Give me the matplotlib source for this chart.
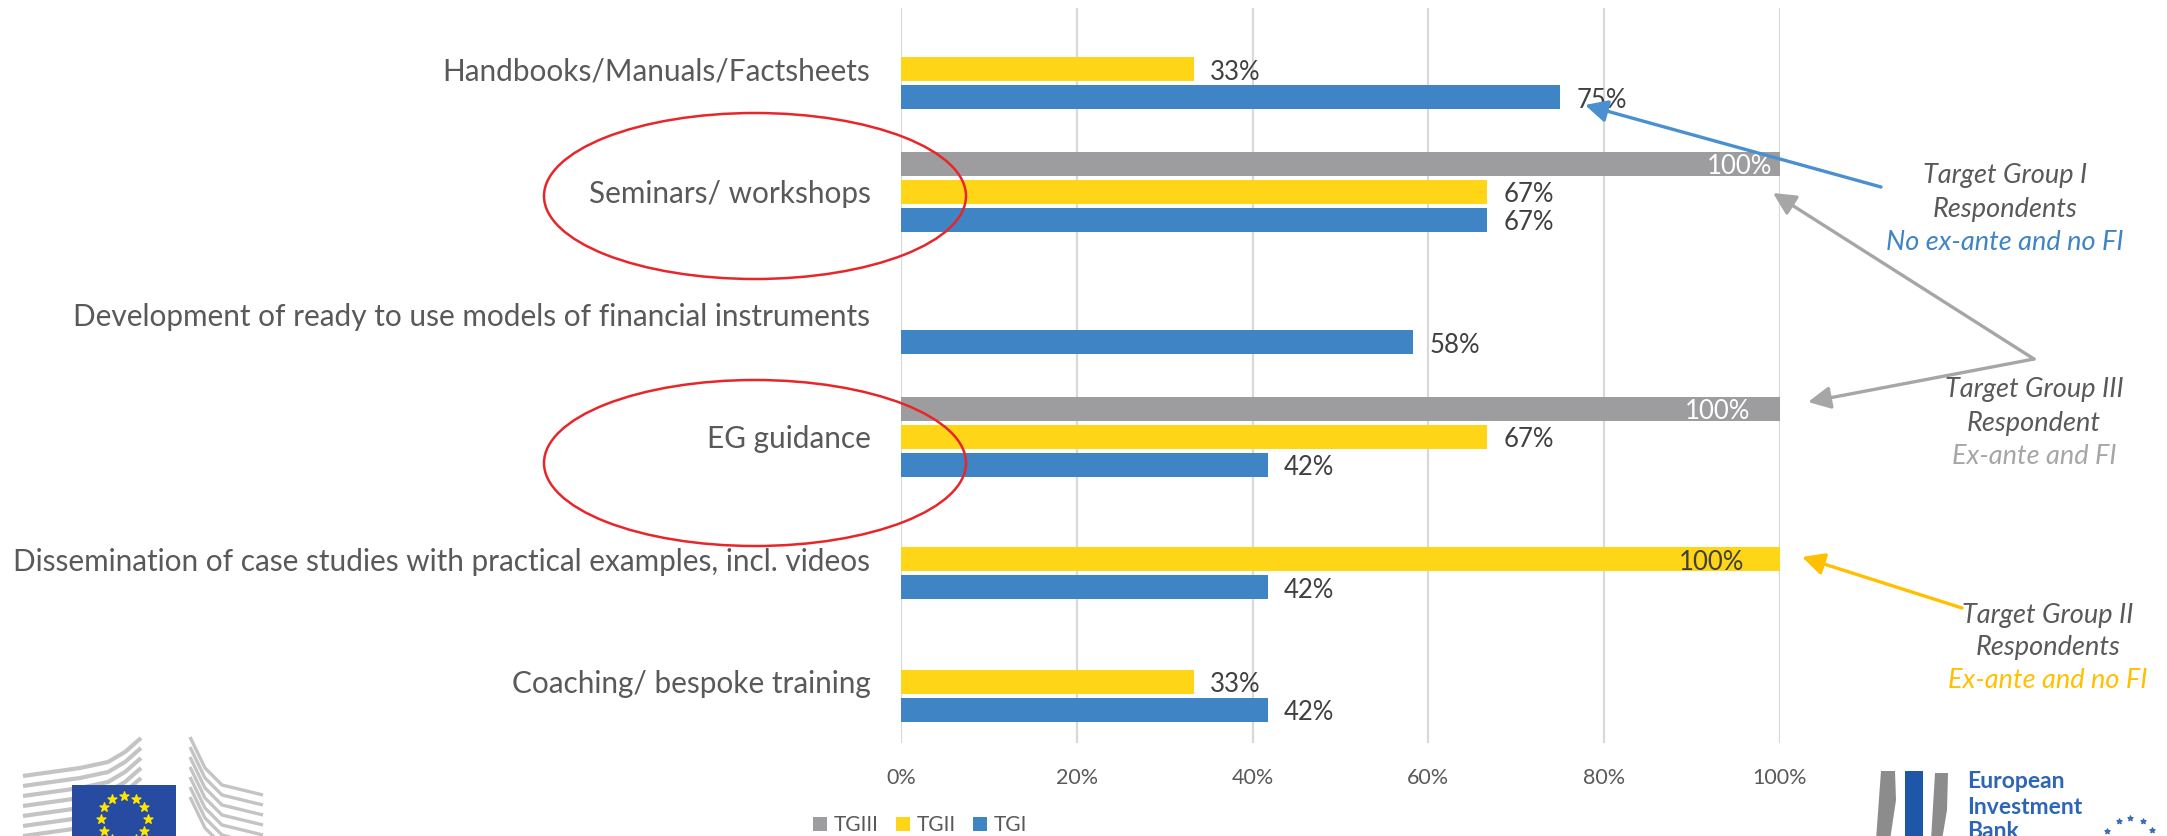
import numpy as np
import matplotlib
matplotlib.use("Agg")
import matplotlib.pyplot as plt
from matplotlib.patches import Ellipse, Rectangle, Polygon

plt.rcParams["font.family"] = ["Lato", "DejaVu Sans"]

W, H = 2167, 836

categories = [
    "Handbooks/Manuals/Factsheets",
    "Seminars/ workshops",
    "Development of ready to use models of financial instruments",
    "EG guidance",
    "Dissemination of case studies with practical examples, incl. videos",
    "Coaching/ bespoke training",
]
tg1 = [75, 66.7, 58.3, 41.7, 41.7, 41.7]
tg2 = [33.3, 66.7, None, 66.7, 100, 33.3]
tg3 = [None, 100, None, 100, None, None]
ticks = [0, 20, 40, 60, 80, 100]

BLUE = "#3f84c4"
YELLOW = "#ffd617"
GREY = "#9d9d9f"
TXT = "#595959"
DARK = "#404040"

fig = plt.figure(figsize=(W / 100, H / 100), dpi=100, facecolor="white")
ax = fig.add_axes([901 / W, 1 - 743 / H, 879 / W, 735 / H])

y = np.arange(len(categories))
step = 0.23
bar_h = 0.195


def draw(vals, offset, color):
    pos = [p + offset for p, v in zip(y, vals) if v is not None]
    w = [v for v in vals if v is not None]
    return ax.barh(pos, w, height=bar_h, color=color, zorder=3)


b3 = draw(tg3, -step, GREY)
b2 = draw(tg2, 0, YELLOW)
b1 = draw(tg1, step, BLUE)

ax.set_xlim(0, 100)
ax.set_ylim(len(categories) - 0.5, -0.5)
ax.set_xticks(ticks)
ax.set_xticklabels([f"{t}%" for t in ticks], fontsize=15.5, color=TXT)
ax.set_yticks(y)
ax.set_yticklabels(categories, fontsize=21.4, color=TXT)
ax.tick_params(axis="y", length=0, pad=22)
ax.tick_params(axis="x", length=0, pad=18)
ax.grid(axis="x", color="#d9d9d9", lw=1.6, zorder=0)
for s in ax.spines.values():
    s.set_visible(False)

# value labels
VAL_SIZE = 18.5
for i, v in enumerate(tg1):
    ax.annotate(f"{v:.0f}%", (v, i + step), xytext=(16, -3), textcoords="offset pixels",
                va="center", ha="left", fontsize=VAL_SIZE, color=DARK, zorder=4)
for i, v in enumerate(tg2):
    if v is None:
        continue
    if v == 100:
        ax.annotate(f"{v:.0f}%", (v, i), xytext=(-36, -3), textcoords="offset pixels",
                    va="center", ha="right", fontsize=VAL_SIZE, color=DARK, zorder=4)
    else:
        ax.annotate(f"{v:.0f}%", (v, i), xytext=(16, -3), textcoords="offset pixels",
                    va="center", ha="left", fontsize=VAL_SIZE, color=DARK, zorder=4)
inset = {1: -8, 3: -30}
for i, v in enumerate(tg3):
    if v is None:
        continue
    ax.annotate(f"{v:.0f}%", (v, i - step), xytext=(inset[i], -3), textcoords="offset pixels",
                va="center", ha="right", fontsize=VAL_SIZE, color="white", zorder=4)

fig.legend([b3, b2, b1], ["TGIII", "TGII", "TGI"], loc="center", ncol=3, frameon=False,
           bbox_to_anchor=(920 / W, 1 - 825 / H), fontsize=15, labelcolor=TXT,
           handlelength=0.67, handleheight=0.67, handletextpad=0.3, columnspacing=0.85,
           borderpad=0)

# everything below is drawn in figure pixels
ov = fig.add_axes([0, 0, 1, 1], zorder=10)
ov.set_xlim(0, W)
ov.set_ylim(H, 0)
ov.axis("off")
ov.patch.set_alpha(0)

for cy in (196, 463):
    ov.add_patch(Ellipse((755, cy), 422, 166, fc="none", ec="#e8262a", lw=1.8))


def arrow(start, end, color):
    ov.annotate("", xy=end, xytext=start,
                arrowprops=dict(arrowstyle="-|>,head_length=0.9,head_width=0.45", color=color,
                                lw=2.4, shrinkA=0, shrinkB=0, mutation_scale=15))


arrow((1881, 187), (1585, 105), "#4a90d0")
arrow((2034, 359), (1773, 193), "#a6a6a6")
arrow((2034, 359), (1808, 402), "#a6a6a6")
arrow((1962, 608), (1802, 557), "#ffc000")

notes = [
    (2005, 176, "Target Group I", "Respondents", "No ex-ante and no FI", BLUE),
    (2034, 390, "Target Group III", "Respondent", "Ex-ante and FI", "#a6a6a6"),
    (2048, 615, "Target Group II", "Respondents", "Ex-ante and no FI", "#ffc000"),
]
for cx, top, a, b, c, col in notes:
    ov.text(cx, top, a, ha="center", va="center", fontsize=19.5, style="italic", color=TXT)
    ov.text(cx, top + 33, b, ha="center", va="center", fontsize=19.5, style="italic", color=TXT)
    ov.text(cx, top + 66, c, ha="center", va="center", fontsize=19.5, style="italic", color=col)

# EU logo, cropped by the page edge
for k in range(7):
    off = k * 10
    ov.plot([23, 80, 108, 125, 141], [776 + off, 768 + off, 762 + off, 752 + off, 738 + off],
            color="#c4c4c4", lw=3, solid_capstyle="butt")
    ov.plot([190, 205, 222, 263], [737 + off, 768 + off, 785 + off, 795 + off],
            color="#c4c4c4", lw=2.4, solid_capstyle="butt")
ov.add_patch(Rectangle((72, 785), 104, 60, fc="#264ba0", ec="none", zorder=3))
angles = np.deg2rad(np.arange(0, 360, 30))
ov.scatter(124 + 23.5 * np.cos(angles), 819 + 23.5 * np.sin(angles), marker="*", s=45,
           color="#ffe600", zorder=4)

# EIB logo, cropped by the page edge
ov.add_patch(Polygon([(1881, 771), (1895, 771), (1896, 800), (1890, 840), (1876, 840)], fc="#8c8c8c", ec="none"))
ov.add_patch(Rectangle((1905, 771), 18, 70, fc="#1f57a8", ec="none"))
ov.add_patch(Polygon([(1935, 773), (1948, 773), (1947, 810), (1942, 840), (1931, 840)], fc="#8c8c8c", ec="none"))
for ty, s in ((781, "European"), (807, "Investment"), (832, "Bank")):
    ov.text(1967, ty, s, ha="left", va="center", fontsize=16.5, fontweight="bold", color="#2d66b5")
star_a = np.deg2rad(np.array([212, 245, 270, 298, 325]))
ov.scatter(2130 + 27 * np.cos(star_a), 845 + 27 * np.sin(star_a), marker="*", s=14, color="#3a6db8")

fig.savefig("out.png", dpi=100)
